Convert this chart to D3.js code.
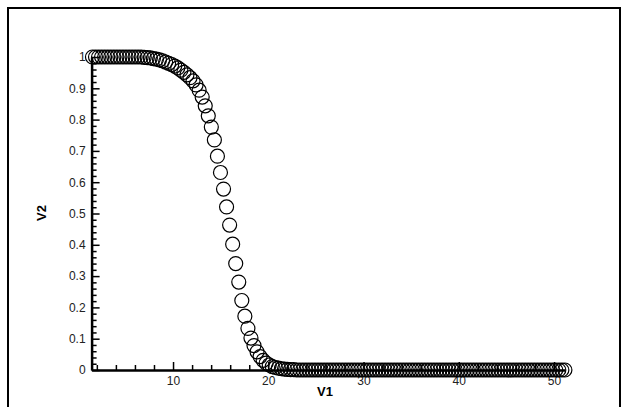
<!DOCTYPE html>
<html>
<head>
<meta charset="utf-8">
<script src="https://cdn.jsdelivr.net/npm/d3@7"></script>
<style>
  html, body { margin: 0; padding: 0; background: #fff; }
  svg { display: block; }
  text { font-family: "Liberation Sans", Arial, sans-serif; }
</style>
</head>
<body>
<svg id="chart" width="627" height="407"></svg>
<script>
// ---- data ----
const V1 = [
  1.54, 1.86, 2.18, 2.50, 2.82, 3.14, 3.46, 3.78, 4.10, 4.42,
  4.74, 5.06, 5.38, 5.70, 6.02, 6.34, 6.66, 6.98, 7.30, 7.62,
  7.94, 8.26, 8.58, 8.90, 9.22, 9.54, 9.86, 10.18, 10.50, 10.82,
  11.14, 11.46, 11.78, 12.10, 12.42, 12.74, 13.06, 13.38, 13.70, 14.02,
  14.34, 14.66, 14.98, 15.30, 15.62, 15.94, 16.26, 16.58, 16.90, 17.22,
  17.54, 17.86, 18.18, 18.50, 18.82, 19.14, 19.46, 19.78, 20.10, 20.42,
  20.74, 21.06, 21.38, 21.70, 22.02, 22.34, 22.66, 22.98, 23.30, 23.62,
  23.94, 24.26, 24.58, 24.90, 25.22, 25.54, 25.86, 26.18, 26.50, 26.82,
  27.14, 27.46, 27.78, 28.10, 28.42, 28.74, 29.06, 29.38, 29.70, 30.02,
  30.34, 30.66, 30.98, 31.30, 31.62, 31.94, 32.26, 32.58, 32.90, 33.22,
  33.54, 33.86, 34.18, 34.50, 34.82, 35.14, 35.46, 35.78, 36.10, 36.42,
  36.74, 37.06, 37.38, 37.70, 38.02, 38.34, 38.66, 38.98, 39.30, 39.62,
  39.94, 40.26, 40.58, 40.90, 41.22, 41.54, 41.86, 42.18, 42.50, 42.82,
  43.14, 43.46, 43.78, 44.10, 44.42, 44.74, 45.06, 45.38, 45.70, 46.02,
  46.34, 46.66, 46.98, 47.30, 47.62, 47.94, 48.26, 48.58, 48.90, 49.22,
  49.54, 49.86, 50.18, 50.50, 50.82, 51.14
];
const V2 = [
  1, 1, 1, 1, 1, 1, 1, 1, 1, 1,
  1, 1, 1, 1, 1, 1, 1, 0.999, 0.998, 0.997,
  0.995, 0.993, 0.991, 0.988, 0.984, 0.980, 0.976, 0.971, 0.965, 0.958,
  0.951, 0.943, 0.934, 0.924, 0.911, 0.894, 0.872, 0.844, 0.812, 0.776,
  0.735, 0.683, 0.631, 0.578, 0.521, 0.463, 0.402, 0.340, 0.281, 0.222,
  0.172, 0.133, 0.102, 0.078, 0.058, 0.043, 0.031, 0.022, 0.016, 0.011,
  0.008, 0.006, 0.004, 0.003, 0.002, 0.0015, 0.001, 0, 0, 0,
  0, 0, 0, 0, 0, 0, 0, 0, 0, 0,
  0, 0, 0, 0, 0, 0, 0, 0, 0, 0,
  0, 0, 0, 0, 0, 0, 0, 0, 0, 0,
  0, 0, 0, 0, 0, 0, 0, 0, 0, 0,
  0, 0, 0, 0, 0, 0, 0, 0, 0, 0,
  0, 0, 0, 0, 0, 0, 0, 0, 0, 0,
  0, 0, 0, 0, 0, 0, 0, 0, 0, 0,
  0, 0, 0, 0, 0, 0, 0, 0, 0, 0,
  0, 0, 0, 0, 0, 0
];
const xMajorTicks = [10, 20, 30, 40, 50];
const xMinorTicks = [2, 4, 6, 8, 12, 14, 16, 18, 22, 24, 26, 28, 32, 34, 36, 38, 42, 44, 46, 48];
const yMajorTicks = [0, 0.1, 0.2, 0.3, 0.4, 0.5, 0.6, 0.7, 0.8, 0.9, 1];
const yMinorTicks = [0.02, 0.04, 0.06, 0.08, 0.12, 0.14, 0.16, 0.18, 0.22, 0.24, 0.26, 0.28,
  0.32, 0.34, 0.36, 0.38, 0.42, 0.44, 0.46, 0.48, 0.52, 0.54, 0.56, 0.58,
  0.62, 0.64, 0.66, 0.68, 0.72, 0.74, 0.76, 0.78, 0.82, 0.84, 0.86, 0.88,
  0.92, 0.94, 0.96, 0.98];
const xTitle = "V1";
const yTitle = "V2";

// ---- drawing ----
const svg = d3.select("#chart");
const points = V1.map((v, i) => ({ x: v, y: V2[i] }));

// outer frame
svg.append("rect")
  .attr("x", 8).attr("y", 8).attr("width", 612).attr("height", 420)
  .attr("fill", "none").attr("stroke", "#000").attr("stroke-width", 2);

const x = d3.scaleLinear().domain([1.45, 51.14]).range([91.6, 564.9]);
const y = d3.scaleLinear().domain([0, 1]).range([370, 57]);

const x0 = x.range()[0];
const y0 = y.range()[0];

// minor ticks
svg.append("g").attr("transform", `translate(0,${y0})`)
  .call(d3.axisBottom(x).tickValues(xMinorTicks).tickSizeInner(-5).tickSizeOuter(0).tickFormat(""))
  .call(g => g.select(".domain").remove())
  .call(g => g.selectAll("line").attr("stroke", "#000").attr("stroke-width", 1.5));
svg.append("g").attr("transform", `translate(${x0},0)`)
  .call(d3.axisLeft(y).tickValues(yMinorTicks).tickSizeInner(-5).tickSizeOuter(0).tickFormat(""))
  .call(g => g.select(".domain").remove())
  .call(g => g.selectAll("line").attr("stroke", "#000").attr("stroke-width", 1.5));

// major axes
svg.append("g").attr("transform", `translate(0,${y0})`)
  .call(d3.axisBottom(x).tickValues(xMajorTicks).tickSizeInner(-8).tickSizeOuter(0).tickPadding(6).tickFormat(d => String(d)))
  .call(g => g.select(".domain").attr("stroke", "#000").attr("stroke-width", 2.5))
  .call(g => g.selectAll("line").attr("stroke", "#000").attr("stroke-width", 1.5))
  .call(g => g.selectAll("text").attr("font-size", 12).attr("fill", "#222")
    .attr("font-family", "Liberation Sans, Arial, sans-serif"));
svg.append("g").attr("transform", `translate(${x0},0)`)
  .call(d3.axisLeft(y).tickValues(yMajorTicks).tickSizeInner(-8).tickSizeOuter(0).tickPadding(6).tickFormat(d => String(d)))
  .call(g => g.select(".domain").attr("stroke", "#000").attr("stroke-width", 2.5))
  .call(g => g.selectAll("line").attr("stroke", "#000").attr("stroke-width", 1.5))
  .call(g => g.selectAll("text").attr("font-size", 12).attr("fill", "#222")
    .attr("font-family", "Liberation Sans, Arial, sans-serif"));

// axis titles
svg.append("text").attr("x", 325).attr("y", 396).attr("text-anchor", "middle")
  .attr("font-size", 13).attr("font-weight", "bold").attr("fill", "#000").text(xTitle);
svg.append("text").attr("transform", "translate(46,213) rotate(-90)").attr("text-anchor", "middle")
  .attr("font-size", 13).attr("font-weight", "bold").attr("fill", "#000").text(yTitle);

// symbols
svg.append("g").selectAll("circle").data(points).join("circle")
  .attr("cx", d => x(d.x)).attr("cy", d => y(d.y)).attr("r", 7)
  .attr("fill", "none").attr("stroke", "#000").attr("stroke-width", 1.2);
</script>
</body>
</html>
